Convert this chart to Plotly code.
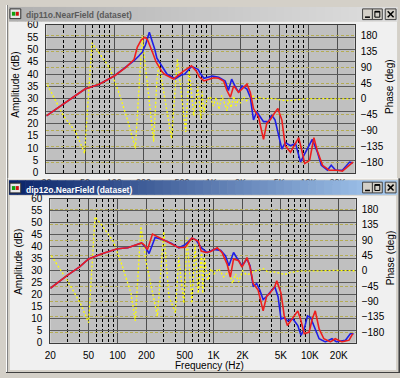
import math
import plotly.graph_objects as go

W, H = 400, 378

# ---------------- data ----------------
freq_ticks = [20, 50, 100, 200, 500, 1000, 2000, 5000, 10000, 20000]
freq_ticktext = ["20", "50", "100", "200", "500", "1K", "2K", "5K", "10K", "20K"]
freq_minor = [30, 40, 60, 70, 80, 90, 300, 400, 600, 700, 800, 900,
              3000, 4000, 6000, 7000, 8000, 9000]
amp_ticks = list(range(0, 61, 5))
phase_ticks = [-180, -135, -90, -45, 0, 45, 90, 135, 180]

# window 1: dip11o.NearField
top_blue_f = [20, 30, 40, 50, 70, 100, 130, 160, 180, 195, 210, 230, 245, 260, 275,
              310, 350, 425, 495, 530, 625, 730, 780, 840, 940, 1030, 1190, 1390,
              1500, 1620, 1750, 1910, 2070, 2330, 2520, 2720, 2940, 3180, 3450, 3880,
              4180, 4530, 4900, 5330, 5780, 6550, 7370, 8300, 8960, 10100, 10970,
              12400, 13600, 15700, 17200, 19100, 22400, 26600, 28800]
top_blue_db = [23.1, 28.1, 31.4, 34.0, 36.0, 39.3, 42.6, 45.5, 47.5, 49.0, 52.0, 57.0,
               53.6, 50.5, 46.5, 43.0, 40.0, 38.2, 39.8, 40.0, 43.2, 42.0, 40.0, 38.4,
               38.8, 39.3, 38.8, 37.3, 33.4, 38.0, 35.3, 32.7, 35.3, 34.0, 30.7, 21.5,
               24.8, 22.8, 20.8, 20.8, 23.5, 21.5, 16.3, 9.7, 12.3, 11.0, 12.0, 4.4,
               7.0, 11.0, 13.6, 8.4, 3.1, 1.1, 3.1, 1.1, 1.1, 4.4, 4.0]
top_red_f = [20, 30, 40, 50, 70, 100, 130, 160, 173, 190, 207, 220, 235, 250, 270,
             310, 330, 410, 510, 625, 705, 750, 840, 940, 1060, 1190, 1340, 1450,
             1570, 1700, 1910, 2150, 2330, 2520, 2720, 3060, 3450, 3730, 4030, 4470,
             4850, 5330, 5780, 6550, 7370, 7950, 8640, 9170, 10300, 11400, 12350,
             14000, 16370, 19900, 22400, 26600, 28800]
top_red_db = [23.1, 28.1, 31.4, 34.0, 36.0, 39.3, 42.6, 46.0, 51.0, 54.0, 55.0, 54.0,
              51.5, 48.5, 45.0, 41.1, 40.0, 38.1, 41.1, 43.4, 41.1, 39.0, 37.3, 38.0,
              38.6, 38.4, 37.3, 33.4, 30.7, 35.3, 32.7, 34.7, 36.0, 32.7, 26.1, 22.8,
              13.6, 20.2, 21.5, 24.2, 26.1, 21.5, 11.0, 8.4, 12.3, 14.3, 8.4, 3.8,
              5.1, 14.3, 9.0, 3.1, 1.1, 1.1, 0.7, 3.1, 4.4]
top_phase_f = [20.5, 30, 40, 49.5, 59, 68, 89, 112, 136, 165, 194, 255, 275, 289, 390,
               447, 545, 592, 660, 728, 780, 805, 840, 900, 975, 1050, 1120, 1200,
               1280, 1380, 1450, 1520, 1600, 1700, 1800, 1900, 2000, 2150, 2300, 2500,
               2700, 2900, 3100, 3400, 3700, 4000, 4500, 5000, 5500, 6000, 6500, 7000,
               8000, 9000, 10000, 12000, 14000, 17000, 20000, 24000, 30000]
top_phase_deg = [40, -48, -94, -155, 160, 137, 90, 17, -57, -141, 178, -122, 54, 100,
                 -113, 114, -94, 81, -48, 35, -57, 21, -38, -2, 7, -20, 5, -30, 10,
                 -15, -34, 0, -25, 8, -20, 0, -12, 6, -5, 3, 8, 0, 4, 2, 0, 2, 1, -2,
                 -4, -5, -5, -3, -2, 0, 1, 0, 1, 0, 0, 1, 0]

# window 2: dip12o.NearField
bot_blue_f = [20, 30, 40, 50, 70, 100, 128, 162, 178, 197, 213, 246, 292, 357, 434,
              506, 594, 650, 742, 860, 1010, 1180, 1330, 1440, 1610, 1770, 1970, 2220,
              2390, 2580, 2800, 3020, 3270, 3550, 4000, 4320, 4670, 5020, 5420, 5850,
              6680, 7500, 8100, 8760, 9460, 10200, 11000, 12500, 14500, 17000, 19000,
              23500, 26400, 28500]
bot_blue_db = [22.7, 28.1, 31.5, 34.9, 37.2, 39.2, 39.6, 40.9, 41.6, 39.6, 37.2, 43.9,
               43.0, 41.6, 39.6, 40.9, 43.6, 43.0, 39.6, 37.6, 38.9, 38.5, 36.2, 32.1,
               37.6, 34.9, 32.1, 34.9, 32.1, 23.4, 24.7, 22.0, 18.0, 19.3, 22.0, 23.4,
               19.3, 9.9, 10.5, 9.2, 9.9, 7.2, 3.1, 5.8, 11.2, 10.5, 7.2, 1.7, 0.4,
               1.7, 0.4, 1.1, 3.8, 3.8]
bot_red_f = [20, 30, 40, 50, 70, 100, 128, 162, 178, 190, 205, 231, 281, 342, 434, 506,
             594, 693, 742, 830, 930, 1090, 1220, 1380, 1490, 1610, 1820, 1970, 2220,
             2390, 2580, 2900, 3150, 3270, 3550, 3840, 4320, 4530, 5020, 5420, 5850,
             6680, 7500, 8100, 8760, 9850, 10600, 11400, 12500, 14000, 16400, 18400,
             21600, 25600, 28000]
bot_red_db = [22.7, 28.1, 31.5, 34.9, 37.2, 39.2, 39.6, 40.9, 41.6, 40.7, 38.9, 45.3,
              43.6, 41.6, 39.6, 39.8, 43.6, 42.3, 38.2, 37.6, 38.0, 39.6, 37.6, 32.8,
              27.4, 34.9, 34.2, 31.5, 35.5, 31.5, 24.7, 22.0, 16.6, 13.3, 19.3, 20.7,
              23.4, 25.8, 20.7, 11.2, 7.2, 10.5, 13.3, 9.2, 3.8, 4.5, 9.9, 13.3, 5.8,
              1.7, 0.4, 1.7, 0.4, 1.1, 3.8]
bot_phase_f = [20.5, 30, 41, 50, 58.3, 68, 90, 113, 138, 153, 175, 197, 260, 303, 342,
               400, 433, 490, 530, 594, 640, 690, 750, 770, 800, 870, 935, 1010, 1130,
               1270, 1440, 1570, 1690, 1820, 2000, 2200, 2390, 2600, 3000, 3300, 3700,
               4200, 5000, 5500, 6000, 7000, 8000, 9000, 11000, 14000, 18000, 22000,
               27000, 30000]
bot_phase_deg = [44, -28, -95, -152, 158, 135, 87, 11, -66, -147, 130, 30, -133, 115,
                 -75, -123, 39, -95, 97, -95, 77, -66, 58, -66, 39, -28, 6, -9, 6, -18,
                 0, -37, -9, -33, 0, -12, -9, -1, 2, 6, -4, -3, -8, -11, -6, -3, 0, 0,
                 1, 0, 1, 0, 0, 0]

# ---------------- helpers ----------------
def px(x):
    return x / W


def py(y):
    return 1 - y / H


FONT = "Liberation Sans"
PLOT_BG = "#C0C0C0"
CLIENT_BG = "#F0F0F0"
FRAME = "#D4D0C8"
YELLOW = "#FFFF00"

top_plot = (41, 20.5, 354, 172.5)
bot_plot = (45, 199, 355, 347)

fig = go.Figure()

# traces: phase on main axes, amplitude on overlaying axes
fig.add_trace(go.Scatter(x=top_phase_f, y=top_phase_deg, xaxis="x", yaxis="y",
                         mode="lines", line=dict(color=YELLOW, width=1.3, dash="2px,2px")))
fig.add_trace(go.Scatter(x=top_blue_f, y=top_blue_db, xaxis="x", yaxis="y2",
                         mode="lines", line=dict(color="#1E1EE6", width=1.6)))
fig.add_trace(go.Scatter(x=top_red_f, y=top_red_db, xaxis="x", yaxis="y2",
                         mode="lines", line=dict(color="#EE1E1E", width=1.6)))
fig.add_trace(go.Scatter(x=bot_phase_f, y=bot_phase_deg, xaxis="x2", yaxis="y3",
                         mode="lines", line=dict(color=YELLOW, width=1.3, dash="2px,2px")))
fig.add_trace(go.Scatter(x=bot_blue_f, y=bot_blue_db, xaxis="x2", yaxis="y4",
                         mode="lines", line=dict(color="#1E1EE6", width=1.6)))
fig.add_trace(go.Scatter(x=bot_red_f, y=bot_red_db, xaxis="x2", yaxis="y4",
                         mode="lines", line=dict(color="#EE1E1E", width=1.6)))

tickfont = dict(family=FONT, size=10, color="#000000")


def xaxis(plot, anchor, standoff, fsize):
    return dict(type="log", range=[math.log10(20), math.log10(30000)],
                domain=[px(plot[0]), px(plot[2])], anchor=anchor,
                tickmode="array", tickvals=freq_ticks, ticktext=freq_ticktext,
                showgrid=True, gridcolor="#4E4E4E", gridwidth=1,
                minor=dict(tickmode="array", tickvals=freq_minor, showgrid=True,
                           gridcolor="#000000", griddash="3px,2px", gridwidth=1, ticks=""),
                ticks="", ticklabelstandoff=standoff, showline=True, linecolor="#3C3C3C",
                linewidth=1, mirror=True, tickfont=dict(tickfont, size=fsize),
                zeroline=False, fixedrange=True)


def phase_axis(plot, anchor):
    return dict(range=[-211, 211], domain=[py(plot[3]), py(plot[1])], anchor=anchor,
                side="right", tickmode="array", tickvals=phase_ticks,
                showgrid=True, gridcolor="rgb(180,172,84)", griddash="3px,2px",
                gridwidth=1, ticks="", ticklabelstandoff=5, tickfont=tickfont,
                zeroline=False, showline=False, fixedrange=True)


def amp_axis(plot, anchor, over):
    return dict(range=[0, 60], domain=[py(plot[3]), py(plot[1])], anchor=anchor,
                overlaying=over, side="left", tickmode="array", tickvals=amp_ticks,
                showgrid=True, gridcolor="#5A5A5A", gridwidth=1, ticks="",
                ticklabelstandoff=5, tickfont=tickfont, zeroline=False,
                showline=True, linecolor="#3C3C3C", linewidth=1, mirror=True,
                fixedrange=True)


shapes = []


def rect(x0, y0, x1, y1, fill, line=None, lw=0, layer="below"):
    shapes.append(dict(type="rect", xref="paper", yref="paper",
                       x0=px(x0), x1=px(x1), y0=py(y1), y1=py(y0),
                       fillcolor=fill, line=dict(color=line or fill, width=lw),
                       layer=layer))


def hline(x0, x1, y, color, layer="above", lw=1):
    shapes.append(dict(type="line", xref="paper", yref="paper", x0=px(x0), x1=px(x1),
                       y0=py(y), y1=py(y), line=dict(color=color, width=lw), layer=layer))


def vline(x, y0, y1, color, layer="above", lw=1):
    shapes.append(dict(type="line", xref="paper", yref="paper", x0=px(x), x1=px(x),
                       y0=py(y0), y1=py(y1), line=dict(color=color, width=lw), layer=layer))


def gradient_bar(x0, y0, x1, y1, c0, c1, n=48):
    step = (x1 - x0) / n
    for i in range(n):
        t = i / (n - 1)
        c = "rgb(%d,%d,%d)" % tuple(round(c0[k] + (c1[k] - c0[k]) * t) for k in range(3))
        rect(x0 + i * step, y0, x0 + (i + 1) * step + 0.6, y1, c, layer="above")


def buttons(y0):
    for (bx0, bx1) in [(362, 372), (372, 382), (385, 396)]:
        rect(bx0, y0, bx1, y0 + 11, FRAME, "#404040", 1, layer="above")
    hline(364.5, 369.5, y0 + 8.5, "#000000", lw=1.5)
    rect(374.5, y0 + 2.5, 379.5, y0 + 8.5, "rgba(0,0,0,0)", "#000000", 1, layer="above")
    hline(374.5, 379.5, y0 + 3, "#000000", lw=1.5)
    shapes.append(dict(type="line", xref="paper", yref="paper", x0=px(387.5), x1=px(393.5),
                       y0=py(y0 + 2.5), y1=py(y0 + 8.5), line=dict(color="#000", width=1.5)))
    shapes.append(dict(type="line", xref="paper", yref="paper", x0=px(387.5), x1=px(393.5),
                       y0=py(y0 + 8.5), y1=py(y0 + 2.5), line=dict(color="#000", width=1.5)))


def icon(x0, y0):
    rect(x0, y0, x0 + 11, y0 + 10, "#E8E8E8", "#303030", 1, layer="above")
    rect(x0 + 2, y0 + 3, x0 + 5.5, y0 + 7, "#10A010", layer="above")
    rect(x0 + 6, y0 + 3, x0 + 9, y0 + 7, "#D01010", layer="above")


# --- top window (inactive) ---
rect(0, 0, 400, 181, FRAME)
rect(3, 17, 397, 181, CLIENT_BG)
rect(*top_plot, PLOT_BG)
vline(0.5, 0, 181, "#FFFFFF", layer="below")
vline(1.5, 0, 181, "#808080", layer="below")
# --- bottom window (active) ---
rect(0, 178, 400, 378, FRAME)
hline(0, 400, 178.5, "#FFFFFF")
vline(0.5, 178, 378, "#FFFFFF")
vline(1.5, 178, 378, "#808080")
vline(399.5, 178, 378, "#404040")
vline(398.5, 178, 378, "#808080")
hline(0, 400, 377.5, "#404040")
rect(4, 196, 396, 375, CLIENT_BG)
rect(*bot_plot, PLOT_BG)

# title bars
gradient_bar(3, 2, 397, 17, (176, 176, 176), (222, 222, 222))
gradient_bar(3, 180, 397, 195, (10, 36, 106), (166, 202, 240))
icon(4, 4)
icon(4, 183)
buttons(4)
buttons(182)

ann = []


def text(x, y, s, size=10, color="#000", angle=0, xanchor="center", bold=False):
    ann.append(dict(x=px(x), y=py(y), xref="paper", yref="paper", text=("<b>%s</b>" % s) if bold else s,
                    showarrow=False, textangle=angle, xanchor=xanchor, yanchor="middle",
                    borderpad=0, font=dict(family=FONT, size=size, color=color)))


text(19, 10, "dip11o.NearField (dataset)", size=8.5, color="#5A5A5A", xanchor="left", bold=True)
text(19, 190, "dip12o.NearField (dataset)", size=8.5, color="#FFFFFF", xanchor="left", bold=True)
text(10, 82, "Amplitude (dB)", angle=-90)
text(390, 84, "Phase (deg)", angle=-90)
text(12, 264, "Amplitude (dB)", angle=-90)
text(390, 260, "Phase (deg)", angle=-90)
text(207, 370.5, "Frequency (Hz)")

fig.update_layout(
    width=W, height=H, margin=dict(l=0, r=0, t=0, b=0),
    paper_bgcolor=FRAME, plot_bgcolor=PLOT_BG, showlegend=False,
    xaxis=xaxis(top_plot, "y", 0, 9),
    yaxis=phase_axis(top_plot, "x"),
    yaxis2=amp_axis(top_plot, "x", "y"),
    xaxis2=xaxis(bot_plot, "y3", 3, 10),
    yaxis3=phase_axis(bot_plot, "x2"),
    yaxis4=amp_axis(bot_plot, "x2", "y3"),
    shapes=shapes, annotations=ann,
)

fig.write_html("out.html", config={"displayModeBar": False},
               post_script="document.body.style.margin='0';document.body.style.padding='0';")
